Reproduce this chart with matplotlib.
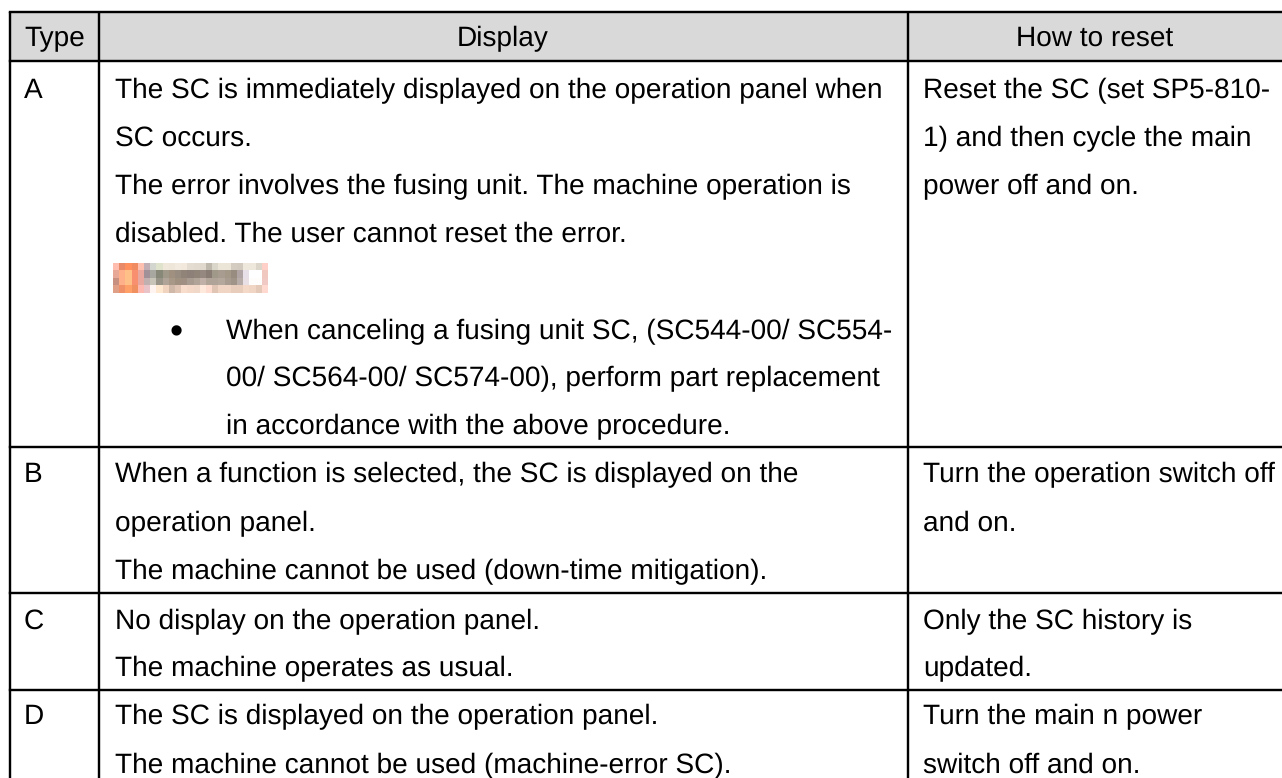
import numpy as np
import matplotlib
matplotlib.use("Agg")
import matplotlib.pyplot as plt
from matplotlib.colors import to_rgb

# table contents
headers = ["Type", "Display", "How to reset"]
types = ["A", "B", "C", "D"]
display_a = ["The SC is immediately displayed on the operation panel when",
             "SC occurs.",
             "The error involves the fusing unit. The machine operation is",
             "disabled. The user cannot reset the error."]
display_a_note = ["When canceling a fusing unit SC, (SC544-00/ SC554-",
                  "00/ SC564-00/ SC574-00), perform part replacement",
                  "in accordance with the above procedure."]
display_b = ["When a function is selected, the SC is displayed on the",
             "operation panel.",
             "The machine cannot be used (down-time mitigation)."]
display_c = ["No display on the operation panel.",
             "The machine operates as usual."]
display_d = ["The SC is displayed on the operation panel.",
             "The machine cannot be used (machine-error SC)."]
reset_a = ["Reset the SC (set SP5-810-", "1) and then cycle the main", "power off and on."]
reset_b = ["Turn the operation switch off", "and on."]
reset_c = ["Only the SC history is", "updated."]
reset_d = ["Turn the main n power", "switch off and on."]

# the pixelated "Important" icon in the source picture
blur_rows = [
    "FFBDB0 E88A68 FF8F5C F08A60 FFC0B0 C0AEB4 D2D6CE DFE3CC EFE8DA EEE6D8 F3EADF F2E8DC E4DCD0 E2DACE E0D8CC BEB8AC DAD6CA EBE5D8 EBE5D8 D4CCC0 D2CABE EEE8DC EEE8DC DCD6CA FFD0C8",
    "E8A898 FFB088 FFC088 F89070 E8A8A0 A09098 A8A8A0 888878 A09888 A09080 988C80 908478 8C8078 908478 948880 887C74 A09888 A89C90 A49888 988C80 B0A4A4 E8E0E8 FFFFFF FFFFFF F0C8C0",
    "C89080 FFB088 FFC088 F89070 E8A8A0 C0B0B0 C8C4B8 989488 B0A498 A89888 A09080 A09084 A89C90 B0A498 C0B0A8 B0A498 B0A498 B4A89C A89C90 A09488 B8ACA8 E8E0E4 FFFCFC FFFCFC F0C8C4",
    "E0A088 F09068 FFA068 F09060 FFB8B0 E8C4C8 FFF4F0 FFE8D0 F0D4C0 D0B8A8 E0C4B4 F8DCCC F4D8C8 F0D8C8 FFE8DC FFDCD0 E0C4B4 F0D4C4 F0D4C4 E8CCBC E8CCBC F4D8C8 F0D4C4 E4C8B8 FFD8D0",
]

W, H = 1282, 778
col_x = [10, 99, 908, W]
row_y = [12, 61, 447, 593, 690, H]
lw_px = 2.4
fs = 20.2
plt.rcParams["font.family"] = ["Liberation Sans", "DejaVu Sans"]
plt.rcParams["text.hinting"] = "none"  # hinted widths jump around with size

fig = plt.figure(figsize=(W / 100, H / 100), dpi=100)
ax = fig.add_axes([0, 0, 1, 1])
ax.set_xlim(0, W)
ax.set_ylim(H, 0)
ax.axis("off")

ax.fill_between(col_x[:2] + col_x[2:], row_y[0], row_y[1], color="#D9D9D9", lw=0)

lw = lw_px * 72 / 100
for y in row_y[:-1]:
    ax.plot([col_x[0], W], [y, y], color="k", lw=lw, solid_capstyle="projecting")
for x in col_x[:-1]:
    ax.plot([x, x], [row_y[0], H], color="k", lw=lw, solid_capstyle="butt")


def put(x, y, s, **kw):
    kw.setdefault("fontsize", fs)
    ax.text(x, y, s, color="#000000", va="baseline", **kw)


put(24, 46, headers[0])
put(503, 46, headers[1], ha="center")
put(1095, 46, headers[2], ha="center")

type_base = [98, 482, 629, 724]
for t, y in zip(types, type_base):
    put(24, y, t)

x2, x3, x_note, x_bullet = 115, 923, 226, 176

for s, y in zip(display_a, [98, 146, 194, 242]):
    put(x2, y, s)
for s, y in zip(display_a_note, [339, 386, 434]):
    put(x_note, y, s)
put(x_bullet, 343, "\u2022", ha="center", fontsize=27)
for s, y in zip(display_b, [482, 531, 579]):
    put(x2, y, s)
for s, y in zip(display_c, [629, 676]):
    put(x2, y, s)
for s, y in zip(display_d, [724, 773]):
    put(x2, y, s)

for s, y in zip(reset_a, [98, 146, 194]):
    put(x3, y, s)
for s, y in zip(reset_b, [482, 531]):
    put(x3, y, s)
for s, y in zip(reset_c, [629, 676]):
    put(x3, y, s)
for s, y in zip(reset_d, [724, 773]):
    put(x3, y, s)

blur = np.array([[to_rgb("#" + c) for c in r.split()] for r in blur_rows])
ax.imshow(blur, extent=[113, 268, 293, 264], interpolation="nearest", aspect="auto", zorder=3)
ax.set_xlim(0, W)
ax.set_ylim(H, 0)

fig.savefig("out.png", dpi=100)
